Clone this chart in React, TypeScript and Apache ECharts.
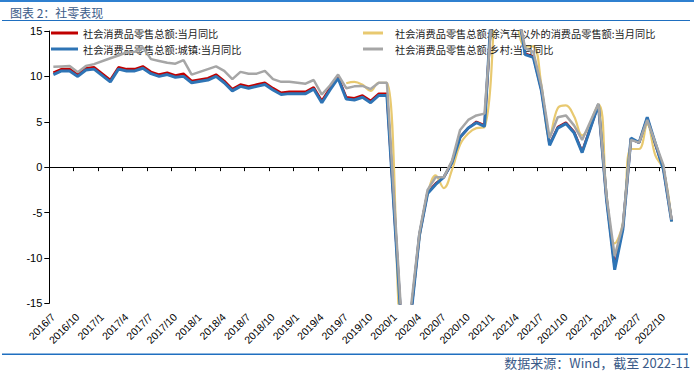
import React, { useEffect, useRef } from "react";
import * as echarts from "echarts";

const months: string[] = [];
for (let y = 2016, m = 7; y < 2022 || (y === 2022 && m <= 11); ) {
  months.push(`${y}/${m}`);
  m++;
  if (m > 12) { m = 1; y++; }
}

const nameTotal = "社会消费品零售总额:当月同比";
const nameUrban = "社会消费品零售总额:城镇:当月同比";
const nameExAuto = "社会消费品零售总额:除汽车以外的消费品零售额:当月同比";
const nameRural = "社会消费品零售总额:乡村:当月同比";

const total = [
  10.4, 10.8, 10.8, 10.2, 10.9, 11.0, null, 9.6, 11.0, 10.8, 10.8, 11.1,
  10.5, 10.2, 10.4, 10.1, 10.3, 9.5, null, 9.8, 10.2, 9.5, 8.6, 9.1,
  8.9, 9.1, 9.3, 8.7, 8.2, 8.3, null, 8.3, 8.8, 7.3, 8.7, 9.9,
  7.7, 7.6, 7.9, 7.3, 8.1, 8.1, null, -20.5, -15.8, -7.5, -2.8, -1.8,
  -1.1, 0.5, 3.3, 4.3, 5.0, 4.6, null, 33.8, 34.2, 17.7, 12.5, 12.2,
  8.5, 2.5, 4.4, 4.9, 3.9, 1.7, null, 6.9, -3.5, -11.0, -6.7, 3.1,
  2.7, 5.4, 2.5, -0.2, -5.9,
];

const urban = [
  10.2, 10.6, 10.6, 10.0, 10.7, 10.8, null, 9.4, 10.8, 10.6, 10.6, 10.9,
  10.3, 10.0, 10.2, 9.9, 10.0, 9.3, null, 9.6, 10.0, 9.3, 8.4, 8.9,
  8.7, 8.9, 9.1, 8.5, 8.0, 8.1, null, 8.1, 8.6, 7.1, 8.5, 9.8,
  7.5, 7.4, 7.7, 7.1, 7.9, 7.9, null, -20.7, -16.0, -7.5, -2.9, -1.9,
  -1.1, 0.5, 3.3, 4.3, 4.9, 4.5, null, 34.9, 35.0, 17.9, 12.4, 12.1,
  8.4, 2.4, 4.3, 4.8, 3.8, 1.6, null, 6.9, -3.6, -11.3, -6.9, 3.2,
  2.7, 5.5, 2.6, -0.3, -6.0,
];

const exAuto = [
  null, null, null, null, null, null, null, null, null, null, null, null,
  null, null, null, null, null, null, null, null, null, null, null, null,
  null, null, null, null, null, null, null, null, null, null, null, null,
  9.25, 9.4, 9.07, 8.4, 9.3, 9.3, null, -19.5, -15.5, -7.8, -3.0, -0.9,
  -2.3, -0.3, 2.5, 3.7, 4.3, 4.4, null, 30.0, 35.0, 16.5, 13.3, 13.3,
  9.0, 3.4, 6.5, 6.8, 5.6, 3.5, null, 6.9, -3.0, -8.4, -6.2, 2.0,
  2.0, 4.7, 1.3, -0.3, -6.0,
];

const rural = [
  11.05, 11.1, 11.15, 10.45, 11.15, 11.35, null, 12.0, 12.3, 12.65, 12.7, 13.2,
  11.9, 11.7, 11.5, 11.4, 11.8, 10.2, null, 10.8, 11.1, 10.6, 9.7, 10.5,
  10.3, 10.3, 10.6, 9.7, 9.4, 9.4, null, 9.2, 9.6, 8.0, 9.0, 10.2,
  8.7, 8.9, 8.95, 8.6, 9.3, 9.3, null, -19.7, -15.1, -7.2, -2.5, -1.1,
  -1.1, 0.7, 4.1, 5.2, 5.7, 5.9, null, 29.7, 32.0, 17.4, 13.1, 12.7,
  8.9, 3.2, 5.5, 5.7, 4.6, 3.0, null, 7.0, -3.2, -9.8, -6.4, 3.0,
  2.7, 5.2, 2.7, 0.2, -5.8,
];

const titleText = "图表 2：社零表现";
const sourceText = "数据来源：Wind，截至 2022-11";

export default function App() {
  const ref = useRef<HTMLDivElement>(null);
  useEffect(() => {
    if (!ref.current) return;
    const chart = echarts.init(ref.current, undefined, { renderer: "svg" });
    const cjk = "Noto Sans CJK SC";
    const latin = "Liberation Sans";
    const mk = (name: string, data: any[], color: string, width: number, smooth: any, z: number) => ({
      name,
      type: "line",
      data,
      symbol: "none",
      connectNulls: true,
      smooth,
      z,
      xAxisIndex: 0,
      lineStyle: { color, width },
      itemStyle: { color },
    });
    const legendText = { fontSize: 10.2, color: "#1a1a1a", fontFamily: cjk, lineHeight: 12 };
    chart.setOption({
      animation: false,
      backgroundColor: "#fff",
      grid: { left: 49.3, right: 18.3, top: 31, bottom: 69.7, containLabel: false },
      legend: [
        {
          data: [nameTotal, nameUrban],
          orient: "vertical",
          left: 46,
          top: 22,
          icon: "rect",
          itemWidth: 27,
          itemHeight: 3,
          itemGap: 4,
          textStyle: legendText,
        },
        {
          data: [nameExAuto, nameRural],
          orient: "vertical",
          left: 358,
          top: 22,
          icon: "rect",
          itemWidth: 20,
          itemHeight: 3,
          itemGap: 4,
          textStyle: { ...legendText, padding: [0, 0, 0, 7] },
        },
      ],
      xAxis: [
        {
          type: "category",
          data: months,
          boundaryGap: true,
          position: "bottom",
          axisLine: { show: false, onZero: false },
          axisTick: { show: false },
          axisLabel: { interval: 2, rotate: 45, fontSize: 10.5, margin: 12, color: "#000", fontFamily: latin },
          splitLine: { show: false },
        },
        {
          type: "category",
          data: months,
          boundaryGap: true,
          position: "bottom",
          axisLine: { show: true, onZero: true, lineStyle: { color: "#000", width: 1 } },
          axisTick: { show: true, interval: 2, length: 4, lineStyle: { color: "#000" } },
          axisLabel: { show: false },
          splitLine: { show: false },
        },
      ],
      yAxis: {
        type: "value",
        min: -15,
        max: 15,
        interval: 5,
        axisLine: { show: true, lineStyle: { color: "#000", width: 1 } },
        axisTick: { show: true, length: 5, lineStyle: { color: "#000" } },
        axisLabel: { fontSize: 11, margin: 7, color: "#000", fontFamily: latin },
        splitLine: { show: false },
      },
      series: [
        mk(nameTotal, total, "#C00000", 2.5, false, 2),
        mk(nameExAuto, exAuto, "#E8C970", 2.2, 0.4, 3),
        mk(nameUrban, urban, "#2E74B5", 3, false, 4),
        mk(nameRural, rural, "#A6A6A6", 2.5, false, 5),
      ],
      graphic: [
        { type: "rect", shape: { x: 0, y: 0, width: 694, height: 2 }, style: { fill: "#2F80D0" } },
        {
          type: "text",
          left: 10,
          top: 6,
          style: { text: titleText, fontSize: 12, fill: "#3A5A88", fontFamily: cjk },
        },
        { type: "rect", shape: { x: 2, y: 20, width: 688, height: 1 }, style: { fill: "#1F6FC0" } },
        { type: "rect", shape: { x: 2, y: 353.5, width: 686, height: 1.5 }, style: { fill: "#1F6FC0" } },
        {
          type: "text",
          right: 4,
          top: 356,
          style: { text: sourceText, fontSize: 13, fill: "#3A5A88", fontFamily: cjk },
        },
      ],
    });
    return () => chart.dispose();
  }, []);
  return (
    <div
      ref={ref}
      style={{ position: "fixed", left: 0, top: 0, width: 694, height: 373, background: "#fff" }}
    />
  );
}
